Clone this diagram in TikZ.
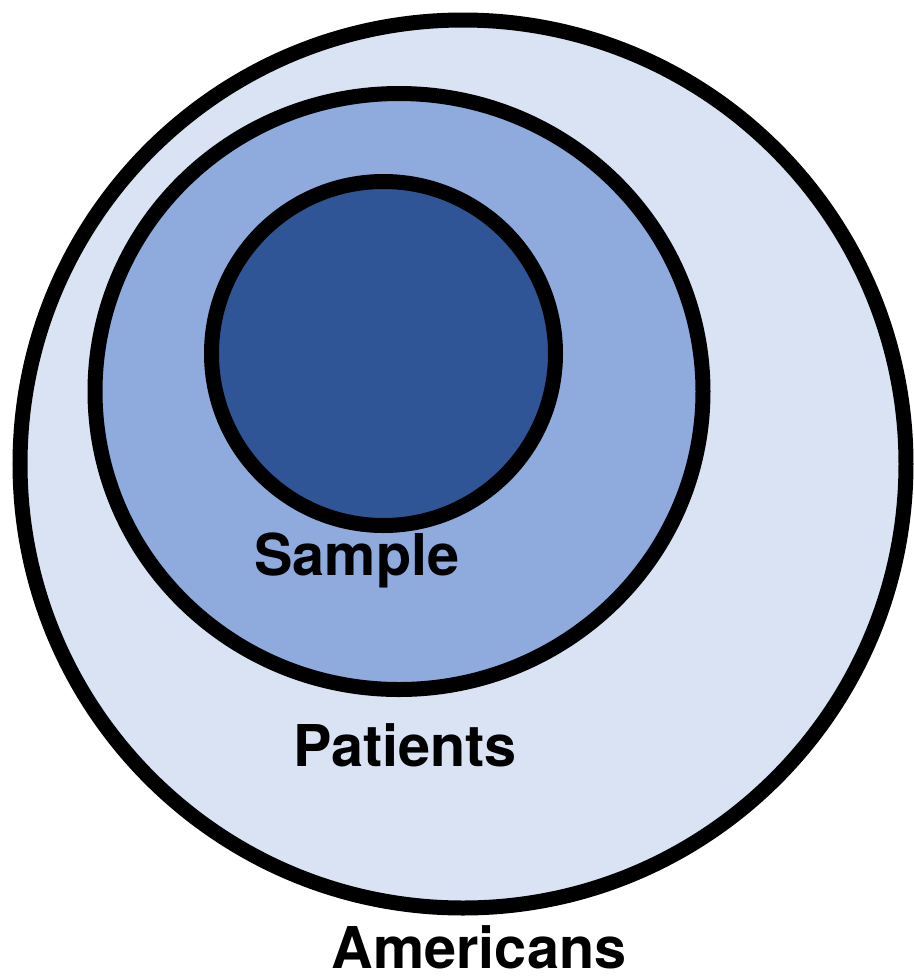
\documentclass[tikz,border=0pt]{standalone}
\usepackage{fontspec}
\setmainfont{TeX Gyre Heros}
\usepackage{xcolor}
\usetikzlibrary{math}
\definecolor{paleblue}{HTML}{DAE3F3}
\definecolor{midblue}{HTML}{8FAADC}
\definecolor{darkblue}{HTML}{2F5597}

\begin{document}
\begin{tikzpicture}[x=0.5pt,y=-0.5pt]
\tikzmath{
\rA=443;%outer
\rB=304;%middle
\rC=172;%inner
}
\tikzset{
ring/.style={draw=black,line width=7.5pt},
setlabel/.style={anchor=base,inner sep=0pt,font=\bfseries\fontsize{28.8}{30}\selectfont}
}
\useasboundingbox (0,0) rectangle (914,976);

\coordinate (cA) at (463,464);
\coordinate (cB) at (399,391.5);
\coordinate (cC) at (383.5,353.5);

\draw[ring,fill=paleblue] (cA) ellipse[x radius=\rA, y radius=444];
\draw[ring,fill=midblue] (cB) ellipse[x radius=\rB, y radius=298];
\draw[ring,fill=darkblue] (cC) ellipse[x radius=\rC, y radius=\rC];

\node[setlabel] (sample) at (357,575) {Sample};
\node[setlabel] (patients) at (405,766) {Patients};
\node[setlabel] (americans) at (479,968) {Americans};

\end{tikzpicture}
\end{document}
